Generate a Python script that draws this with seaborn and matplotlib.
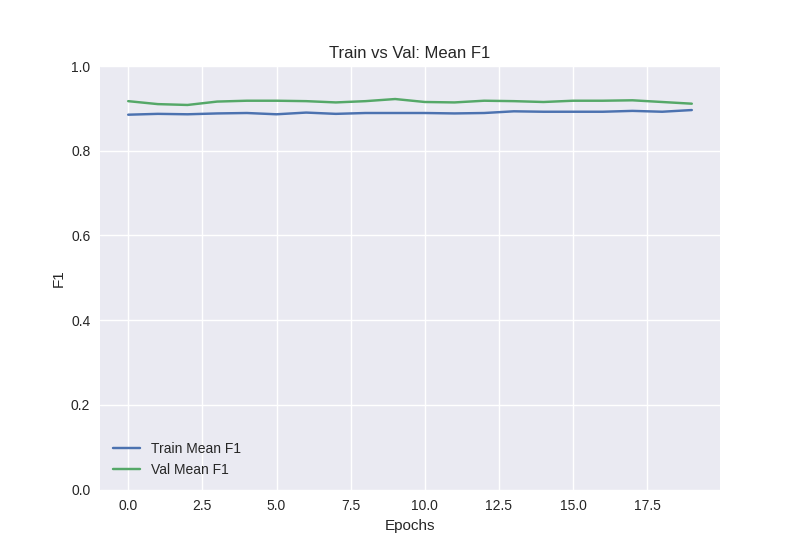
import matplotlib
matplotlib.use("Agg")
import matplotlib.pyplot as plt
import seaborn as sns

plt.style.use('seaborn-v0_8')

epochs = list(range(20))
train_f1 = [0.885, 0.887, 0.886, 0.888, 0.889, 0.886, 0.890, 0.887, 0.889, 0.889, 0.889, 0.888, 0.889,
            0.893, 0.892, 0.892, 0.892, 0.894, 0.892, 0.896]
val_f1 = [0.917, 0.910, 0.908, 0.916, 0.918, 0.918, 0.917, 0.914, 0.917, 0.922, 0.915, 0.914, 0.918,
          0.917, 0.915, 0.918, 0.918, 0.919, 0.915, 0.911]

fig, ax = plt.subplots(figsize=(8, 5.5), dpi=100)
sns.lineplot(x=epochs, y=train_f1, ax=ax, label='Train Mean F1', color='#4c72b0')
sns.lineplot(x=epochs, y=val_f1, ax=ax, label='Val Mean F1', color='#55a868')
ax.set_ylim(0, 1.0)
ax.set_title('Train vs Val: Mean F1')
ax.set_xlabel('Epochs')
ax.set_ylabel('F1')
ax.legend(loc='lower left')
fig.savefig('out.png', dpi=100)
